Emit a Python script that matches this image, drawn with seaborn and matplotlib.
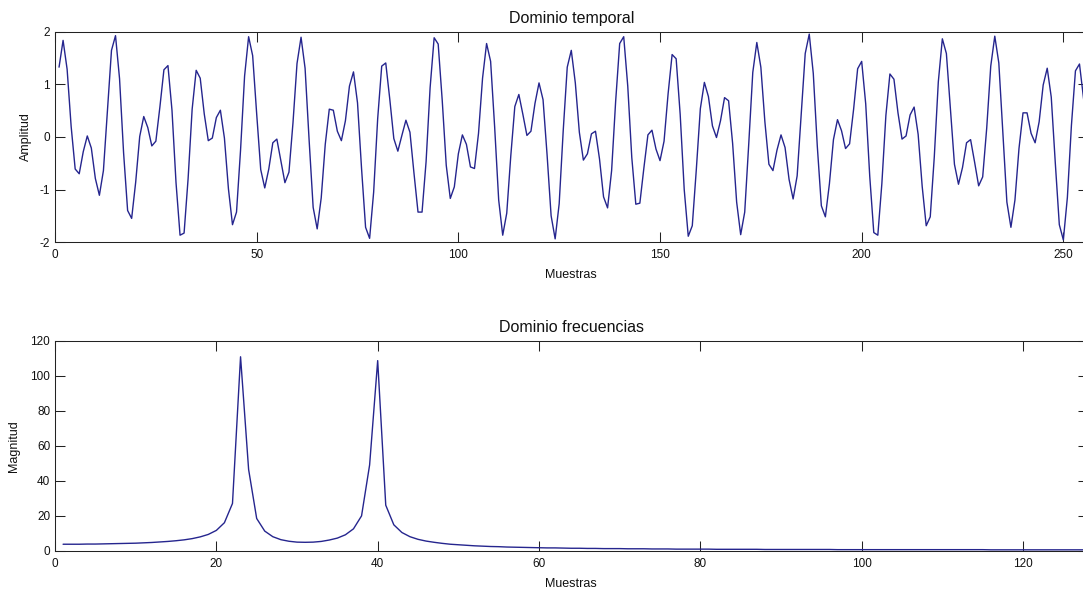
import numpy as np
import pandas as pd
import matplotlib
matplotlib.use("Agg")
import matplotlib.pyplot as plt
import seaborn as sns

# señal temporal (256 muestras)
amplitud = [
    1.33, 1.84, 1.29, 0.20, -0.61, -0.70, -0.28, 0.02, -0.21, -0.79, -1.11, -0.64, 0.52, 1.65, 1.93, 1.11,
    -0.30, -1.40, -1.55, -0.86, 0.01, 0.39, 0.18, -0.17, -0.08, 0.57, 1.28, 1.36, 0.51, -0.87, -1.87, -1.83,
    -0.79, 0.53, 1.27, 1.12, 0.44, -0.07, -0.02, 0.37, 0.51, -0.02, -0.99, -1.67, -1.43, -0.25, 1.16, 1.91,
    1.55, 0.44, -0.62, -0.97, -0.61, -0.11, -0.04, -0.46, -0.87, -0.67, 0.27, 1.40, 1.90, 1.31, -0.06, -1.34,
    -1.75, -1.16, -0.14, 0.53, 0.51, 0.11, -0.07, 0.31, 0.97, 1.24, 0.65, -0.60, -1.72, -1.93, -1.05, 0.35,
    1.35, 1.41, 0.72, -0.03, -0.27, 0.03, 0.32, 0.09, -0.69, -1.43, -1.43, -0.47, 0.94, 1.89, 1.77, 0.70,
    -0.54, -1.17, -0.95, -0.32, 0.04, -0.14, -0.57, -0.60, 0.07, 1.12, 1.78, 1.44, 0.19, -1.20, -1.87, -1.45,
    -0.36, 0.58, 0.81, 0.43, 0.03, 0.11, 0.64, 1.03, 0.71, -0.34, -1.50, -1.94, -1.27, 0.12, 1.33, 1.65,
    1.03, 0.09, -0.44, -0.32, 0.06, 0.11, -0.42, -1.14, -1.35, -0.64, 0.68, 1.78, 1.91, 0.97, -0.39, -1.28,
    -1.26, -0.59, 0.04, 0.13, -0.23, -0.45, -0.08, 0.82, 1.57, 1.49, 0.43, -1.00, -1.89, -1.69, -0.62, 0.54,
    1.04, 0.77, 0.21, -0.01, 0.31, 0.75, 0.69, -0.12, -1.24, -1.86, -1.43, -0.13, 1.23, 1.80, 1.33, 0.29,
    -0.52, -0.64, -0.25, 0.04, -0.20, -0.81, -1.18, -0.74, 0.42, 1.59, 1.96, 1.21, -0.18, -1.31, -1.52, -0.89,
    -0.05, 0.33, 0.12, -0.22, -0.13, 0.53, 1.30, 1.44, 0.63, -0.75, -1.82, -1.87, -0.89, 0.41, 1.20, 1.10,
    0.46, -0.04, 0.02, 0.42, 0.57, 0.05, -0.94, -1.69, -1.52, -0.38, 1.05, 1.87, 1.59, 0.53, -0.52, -0.90,
    -0.58, -0.11, -0.05, -0.48, -0.93, -0.76, 0.17, 1.35, 1.92, 1.41, 0.07, -1.24, -1.72, -1.20, -0.22, 0.46,
    0.46, 0.07, -0.11, 0.29, 0.99, 1.31, 0.76, -0.49, -1.67, -1.96, -1.15, 0.22, 1.26, 1.39, 0.75, 0.02,
]

# magnitud del espectro (primeras 128 muestras)
magnitud = [
    3.7, 3.7, 3.7, 3.8, 3.8, 3.9, 4.0, 4.1, 4.2, 4.3, 4.5, 4.7, 5.0, 5.3, 5.7, 6.2,
    6.9, 7.9, 9.3, 11.6, 16.0, 27.0, 110.8, 46.4, 18.4, 11.2, 8.0, 6.3, 5.4, 4.9, 4.8, 4.9,
    5.3, 6.1, 7.2, 9.1, 12.5, 19.9, 49.0, 108.6, 26.0, 14.8, 10.4, 8.0, 6.5, 5.5, 4.8, 4.2,
    3.7, 3.4, 3.1, 2.8, 2.6, 2.4, 2.3, 2.1, 2.0, 1.9, 1.8, 1.7, 1.6, 1.6, 1.5, 1.4,
    1.4, 1.3, 1.3, 1.2, 1.2, 1.2, 1.1, 1.1, 1.1, 1.0, 1.0, 1.0, 0.9, 0.9, 0.9, 0.9,
    0.9, 0.8, 0.8, 0.8, 0.8, 0.8, 0.8, 0.7, 0.7, 0.7, 0.7, 0.7, 0.7, 0.7, 0.7, 0.7,
    0.6, 0.6, 0.6, 0.6, 0.6, 0.6, 0.6, 0.6, 0.6, 0.6, 0.6, 0.6, 0.6, 0.6, 0.6, 0.6,
    0.6, 0.6, 0.6, 0.5, 0.5, 0.5, 0.5, 0.5, 0.5, 0.5, 0.5, 0.5, 0.5, 0.5, 0.5, 0.5,
]

df_t = pd.DataFrame({"muestra": np.arange(1, len(amplitud) + 1), "amplitud": amplitud})
df_f = pd.DataFrame({"muestra": np.arange(1, len(magnitud) + 1), "magnitud": magnitud})

sns.set_style("white")
plt.rcParams["font.family"] = ["Liberation Sans", "DejaVu Sans"]
plt.rcParams["axes.unicode_minus"] = False

color_linea = "#25258e"
color_ejes = "#222222"

fig = plt.figure(figsize=(10.83, 5.90), dpi=100)
ax1 = fig.add_axes([0.0508, 0.5898, 0.9534, 0.356])
ax2 = fig.add_axes([0.0508, 0.0666, 0.9534, 0.356])

sns.lineplot(data=df_t, x="muestra", y="amplitud", ax=ax1, color=color_linea, linewidth=1.0)
sns.lineplot(data=df_f, x="muestra", y="magnitud", ax=ax2, color=color_linea, linewidth=1.0)

ax1.set_xlim(0, 256)
ax1.set_ylim(-2, 2)
ax1.set_xticks([0, 50, 100, 150, 200, 250])
ax1.set_yticks([-2, -1, 0, 1, 2])

ax2.set_xlim(0, 128)
ax2.set_ylim(0, 120)
ax2.set_xticks([0, 20, 40, 60, 80, 100, 120])
ax2.set_yticks([0, 20, 40, 60, 80, 100, 120])


def estilo(ax, titulo, etiqueta_y, pos_y):
    ax.set_title(titulo, fontsize=11.5, pad=6.5, color="#111111")
    ax.set_xlabel("Muestras", fontsize=9, color="#111111")
    ax.set_ylabel(etiqueta_y, fontsize=9, color="#111111")
    ax.xaxis.set_label_coords(0.5, -0.129)
    ax.yaxis.set_label_coords(pos_y, 0.5)
    ax.tick_params(axis="both", direction="in", length=7.2, width=0.75,
                   bottom=True, left=True, top=True, right=True,
                   colors=color_ejes, labelsize=8.5, labelcolor="#111111")
    ax.tick_params(axis="x", pad=5)
    ax.tick_params(axis="y", pad=3.5)
    for lado in ax.spines.values():
        lado.set_visible(True)
        lado.set_linewidth(0.75)
        lado.set_color(color_ejes)


estilo(ax1, "Dominio temporal", "Amplitud", -0.0225)
estilo(ax2, "Dominio frecuencias", "Magnitud", -0.0335)

fig.savefig("out.png", dpi=100)
